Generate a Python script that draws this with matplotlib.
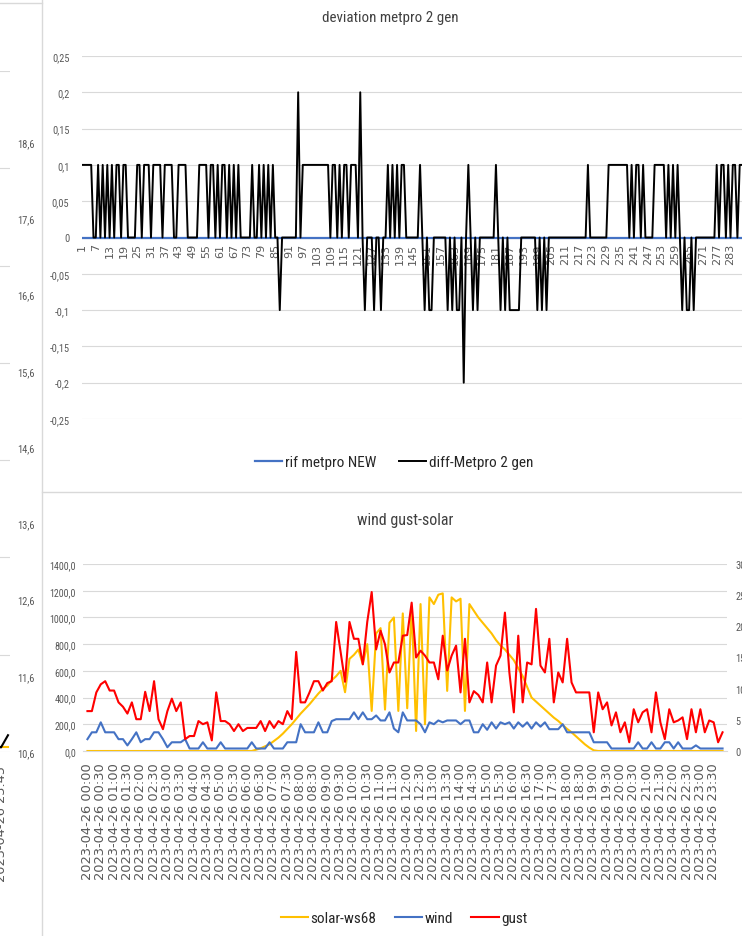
import numpy as np
import matplotlib
matplotlib.use("Agg")
import matplotlib.pyplot as plt
from matplotlib.lines import Line2D
from matplotlib import font_manager

# ---------------- data ----------------
top_title = "deviation metpro 2 gen"
bottom_title = "wind gust-solar"

diff_metpro = [
    0.1, 0.1, 0.1, 0.1, 0.1, 0, 0, 0.1, 0, 0.1, 0, 0.1, 0, 0.1, 0, 0.1, 0.1, 0, 0.1, 0.1, 0, 0, 0, 0,
    0.1, 0.1, 0, 0.1, 0.1, 0.1, 0, 0.1, 0.1, 0.1, 0.1, 0, 0.1, 0.1, 0.1, 0.1, 0, 0, 0.1, 0.1, 0.1, 0.1, 0, 0,
    0, 0, 0, 0.1, 0.1, 0.1, 0.1, 0, 0.1, 0.1, 0, 0.1, 0, 0.1, 0.1, 0, 0.1, 0, 0.1, 0, 0.1, 0, 0, 0,
    0, 0, 0.1, 0, 0, 0.1, 0, 0.1, 0, 0.1, 0, 0.1, 0, 0, -0.1, 0, 0, 0, 0, 0, 0, 0, 0.2, 0,
    0.1, 0.1, 0.1, 0.1, 0.1, 0.1, 0.1, 0.1, 0.1, 0.1, 0.1, 0.1, 0, 0.1, 0.1, 0, 0.1, 0, 0.1, 0.1, 0, 0.1, 0.1, 0.1,
    0, 0.2, 0, -0.1, 0, 0, 0, -0.1, 0, 0, -0.1, 0, 0, 0.1, 0, 0.1, 0, 0.1, 0, 0.1, 0.1, 0, 0, 0,
    0, 0, 0, 0.1, 0, -0.1, 0, -0.1, -0.1, 0, 0, 0, 0, 0, 0, -0.1, 0, -0.1, 0, -0.1, -0.1, 0, -0.2, 0,
    0.1, 0, -0.1, 0, -0.1, 0, 0, 0, 0, 0, 0, 0, 0.1, 0, -0.1, 0, -0.1, 0, -0.1, -0.1, -0.1, -0.1, -0.1, 0,
    0, 0, 0, 0, 0, 0, -0.1, 0, -0.1, 0, -0.1, 0, 0, 0, 0, 0, 0, 0, 0, 0, 0, 0, 0, 0,
    0, 0, 0, 0, 0.1, 0, 0, 0, 0, 0, 0, 0, 0, 0.1, 0.1, 0.1, 0.1, 0.1, 0.1, 0.1, 0.1, 0.1, 0, 0.1,
    0, 0.1, 0.1, 0, 0.1, 0, 0, 0, 0, 0.1, 0.1, 0.1, 0.1, 0.1, 0, 0.1, 0, 0.1, 0, 0.1, 0, -0.1, 0, -0.1,
    -0.1, 0, -0.1, 0, 0, 0, 0, 0, 0, 0, 0, 0, 0.1, 0, 0.1, 0.1, 0, 0.1, 0, 0.1, 0.1, 0, 0.1, 0.1,
]
rif_metpro = [0.0] * len(diff_metpro)
top_categories = list(range(1, len(diff_metpro) + 1))
top_yticks = [-0.25, -0.2, -0.15, -0.1, -0.05, 0, 0.05, 0.1, 0.15, 0.2, 0.25]

times = [f"2023-04-26 {h:02d}:{m:02d}" for h in range(24) for m in (0, 10, 20, 30, 40, 50)]
solar = (
    [0] * 38
    + [10, 20, 35, 50, 75, 100, 130, 165, 200, 240, 280, 315, 350, 390, 430, 465, 490, 530, 560, 600,
       440, 690, 720, 760, 650, 800]
    + [300, 880, 920, 310, 960, 1000, 300, 1030, 320, 1080, 150, 1100, 200, 1150, 1100, 1170,
       1180, 450, 1150, 1120, 1140, 300, 1100, 1050, 1000, 960, 920, 880, 830, 790, 760, 720]
    + [680, 620, 560, 480, 400, 370, 340, 310, 280, 250, 225, 195, 165, 140, 110, 80, 50, 25, 5, 0, 0, 0, 0, 0]
    + [0] * 24
)
wind = [
    1.9, 3.0, 3.0, 4.6, 3.0, 3.0, 3.0, 1.9, 1.9, 0.9, 1.9, 3.0, 1.4, 1.9, 1.9, 3.0, 3.0, 1.9, 0.6, 1.4, 1.4, 1.4, 1.9, 0.4,
    0.4, 0.4, 1.4, 0.4, 0.4, 0.4, 1.4, 0.4, 0.4, 0.4, 0.4, 0.4, 0.4, 1.4, 0.4, 0.4, 0.4, 1.4, 0.4, 0.4, 0.4, 1.4, 1.4, 1.4,
    4.3, 3.0, 3.0, 3.0, 4.6, 3.0, 3.0, 4.8, 5.1, 5.1, 5.1, 5.1, 6.2, 5.1, 6.2, 5.1, 5.1, 5.7, 4.9, 4.9, 6.2, 3.6, 3.0, 6.2,
    4.9, 4.9, 4.9, 4.3, 3.0, 4.6, 4.3, 4.9, 4.6, 4.9, 4.9, 4.9, 4.3, 4.9, 4.9, 3.0, 3.0, 4.3, 3.4, 4.6, 3.6, 4.6, 4.3, 4.6,
    3.6, 4.6, 3.9, 4.6, 3.6, 4.6, 3.9, 4.6, 3.5, 3.5, 3.5, 4.3, 3.0, 3.0, 3.0, 3.0, 3.0, 3.0, 1.4, 1.4, 1.4, 1.4, 0.4, 0.4,
    0.4, 0.4, 0.4, 0.4, 1.4, 0.4, 0.4, 1.4, 0.4, 0.4, 1.4, 1.4, 0.4, 1.4, 0.4, 0.4, 0.4, 0.9, 0.4, 0.4, 0.4, 0.4, 0.4, 0.4,
]
gust = [
    6.4, 6.4, 9.4, 10.7, 11.2, 9.7, 9.7, 7.8, 7.1, 6.0, 7.8, 5.1, 5.1, 9.5, 6.4, 11.2, 5.1, 3.5, 6.4, 8.4, 6.4, 7.8, 1.9, 2.4,
    2.4, 4.8, 4.3, 4.6, 1.7, 9.4, 4.8, 4.8, 4.3, 3.2, 4.3, 3.2, 3.7, 3.7, 3.7, 4.8, 3.2, 4.8, 3.7, 4.8, 4.3, 6.4, 5.1, 15.9,
    7.8, 7.8, 9.4, 11.2, 11.2, 9.7, 10.9, 11.2, 20.7, 15.9, 11.1, 20.7, 18.0, 18.0, 13.9, 20.7, 25.5, 16.3, 19.3, 17.1, 12.6, 14.2, 14.2, 18.5,
    18.6, 23.8, 15.0, 16.1, 15.3, 14.2, 14.2, 11.5, 18.5, 12.9, 15.3, 16.9, 9.4, 18.0, 7.8, 9.6, 9.0, 7.8, 14.2, 7.8, 13.7, 15.3, 22.2, 12.6,
    6.2, 18.5, 7.8, 14.2, 13.9, 22.8, 13.7, 12.6, 18.0, 7.8, 12.6, 11.0, 18.0, 11.0, 9.4, 9.4, 9.4, 9.4, 3.0, 9.4, 6.7, 7.8, 4.1, 6.2,
    3.0, 4.6, 1.4, 6.7, 4.6, 6.2, 6.7, 3.0, 9.4, 4.6, 1.9, 6.7, 4.6, 4.9, 5.4, 1.9, 6.7, 3.0, 6.7, 3.0, 4.9, 4.6, 1.4, 3.0,
]
solar_ticks = [0, 200, 400, 600, 800, 1000, 1200, 1400]
speed_ticks = [0, 5, 10, 15, 20, 25, 30]

# fragment of the neighbouring chart on the left edge
left_times = ["2023-04-26 23:30", "2023-04-26 23:45", "2023-04-27 00:00"]
left_black = [10.70, 10.66, 10.82]
left_yellow = [10.67, 10.67, 10.67]
left_ticks = [10.6, 11.6, 12.6, 13.6, 14.6, 15.6, 16.6, 17.6, 18.6]
left_grid = [0, 1, 2, 3, 4, 5, 6, 7]

# ---------------- style ----------------
_avail = {f.name for f in font_manager.fontManager.ttflist}
_narrow_pref = ['Liberation Sans Narrow', 'Roboto Condensed', 'Open Sans Condensed',
                'DejaVu Sans Condensed', 'Liberation Sans']
NARROW = [f for f in _narrow_pref if f in _avail][:1] + ['DejaVu Sans']
ROT = ['DejaVu Sans']
GRID = '#D9D9D9'
TXT = '#595959'
DARK = '#404040'
C_BLUE = '#4472C4'
C_YEL = '#FFC000'
C_RED = '#FF0000'

W, H = 742, 937
fig = plt.figure(figsize=(W / 100, H / 100), dpi=100)
fig.patch.set_facecolor('white')


def px_axes(x0, y0, x1, y1):
    return fig.add_axes([x0 / W, 1 - y1 / H, (x1 - x0) / W, (y1 - y0) / H])


def comma(v, fmt="{:g}"):
    if abs(v) < 1e-12:
        v = 0.0
    return fmt.format(v).replace('.', ',')


def clean(ax):
    for s in ax.spines.values():
        s.set_visible(False)
    ax.set_facecolor('none')


# panel borders
for xs, ys in [([42, 42], [0, H]), ([42, W], [493, 493]), ([0, 42], [4, 4])]:
    fig.add_artist(Line2D([x / W for x in xs], [1 - y / H for y in ys],
                          transform=fig.transFigure, color=GRID, lw=1.0))

# ---------------- left fragment ----------------
axL = px_axes(-100, 72, 10, 753)
clean(axL)
axL.set_ylim(0, 7)
axL.set_yticks(left_grid)
axL.yaxis.grid(True, color=GRID, lw=0.8)
axL.tick_params(axis='y', length=0, labelleft=False)
axL.set_xlim(2 + 2 / 7 - 110 / 7, 2 + 2 / 7)
axLb = axL.twinx()
clean(axLb)
axLb.set_ylim(10.6, 19.531)
axLb.plot(range(len(left_yellow)), left_yellow, color=C_YEL, lw=1.5)
axLb.plot(range(len(left_black)), left_black, color='black', lw=1.5)
axLb.set_yticks(left_ticks)
axLb.set_yticklabels([comma(v) for v in left_ticks], family=NARROW, fontsize=7.6, color=TXT)
axLb.tick_params(axis='y', length=0, pad=5)
axL.set_xticks([1])
axL.set_xticklabels([left_times[1]], rotation=90, family=ROT, fontsize=9.3, color=TXT)
axL.tick_params(axis='x', length=0, pad=9)

# ---------------- top chart ----------------
ax1 = px_axes(82, 57, 742, 420)
clean(ax1)
ax1.plot(top_categories, rif_metpro, color=C_BLUE, lw=1.6, zorder=3, label='rif metpro NEW')
ax1.plot(top_categories, diff_metpro, color='black', lw=1.4, zorder=4, label='diff-Metpro 2 gen')
ax1.set_xlim(top_categories[0], top_categories[-1])
ax1.set_ylim(top_yticks[0], top_yticks[-1])
ax1.set_yticks(top_yticks)
ax1.set_yticklabels([comma(v) for v in top_yticks], family=NARROW, fontsize=7.5, color=TXT)
ax1.yaxis.grid(True, color=GRID, lw=0.8)
ax1.set_axisbelow(True)
ax1.spines['bottom'].set_visible(True)
ax1.spines['bottom'].set_position(('data', 0))
ax1.spines['bottom'].set_color(GRID)
tpos = top_categories[::6]
ax1.set_xticks(tpos)
ax1.set_xticklabels([str(c) for c in tpos], rotation=90, family=ROT, fontsize=8, color=TXT)
ax1.tick_params(axis='x', length=0, pad=4)
ax1.tick_params(axis='y', length=0, pad=9)

fig.text(390 / W, 1 - 18 / H, top_title, ha='center', va='center', family=NARROW, fontsize=10.8, color=DARK)
h1, l1 = ax1.get_legend_handles_labels()
fig.legend(h1, l1, loc='center', bbox_to_anchor=(394 / W, 1 - 463 / H), ncol=2, frameon=False,
           prop={'family': NARROW, 'size': 11}, handlelength=1.8, handletextpad=0.15,
           columnspacing=1.5, labelcolor='#262626')

# ---------------- bottom chart ----------------
ax2 = px_axes(83, 565, 727, 752)
clean(ax2)
t = np.arange(len(times))
ln_s, = ax2.plot(t, solar, color=C_YEL, lw=1.5, label='solar-ws68')
ax2.set_xlim(-1, len(times))
ax2.set_ylim(solar_ticks[0], solar_ticks[-1])
ax2.set_yticks(solar_ticks)
ax2.set_yticklabels([comma(v, "{:.1f}") for v in solar_ticks], family=NARROW, fontsize=7.2, color=TXT)
ax2.yaxis.grid(True, color=GRID, lw=0.8)
ax2.set_axisbelow(True)
ax2.spines['bottom'].set_visible(True)
ax2.spines['bottom'].set_color(GRID)
ax2.set_xticks(t[::3])
ax2.set_xticklabels(times[::3], rotation=90, family=ROT, fontsize=9.4, color=TXT)
ax2.tick_params(axis='x', length=0, pad=8)
ax2.tick_params(axis='y', length=0, pad=5)

ax2b = ax2.twinx()
clean(ax2b)
ln_w, = ax2b.plot(t, wind, color=C_BLUE, lw=1.5, label='wind')
ln_g, = ax2b.plot(t, gust, color=C_RED, lw=1.5, label='gust')
ax2b.set_ylim(speed_ticks[0], speed_ticks[-1])
ax2b.set_yticks(speed_ticks)
ax2b.set_yticklabels([str(v) for v in speed_ticks], family=NARROW, fontsize=7.5, color=TXT)
ax2b.tick_params(axis='y', length=0, pad=6)

fig.text(405 / W, 1 - 521 / H, bottom_title, ha='center', va='center', family=NARROW, fontsize=11.5, color=DARK)
fig.legend([ln_s, ln_w, ln_g], ['solar-ws68', 'wind', 'gust'], loc='center',
           bbox_to_anchor=(404 / W, 1 - 919 / H), ncol=3, frameon=False,
           prop={'family': NARROW, 'size': 11}, handlelength=1.8, handletextpad=0.15,
           columnspacing=1.2, labelcolor='#262626')

fig.savefig('out.png', dpi=100, facecolor='white')
